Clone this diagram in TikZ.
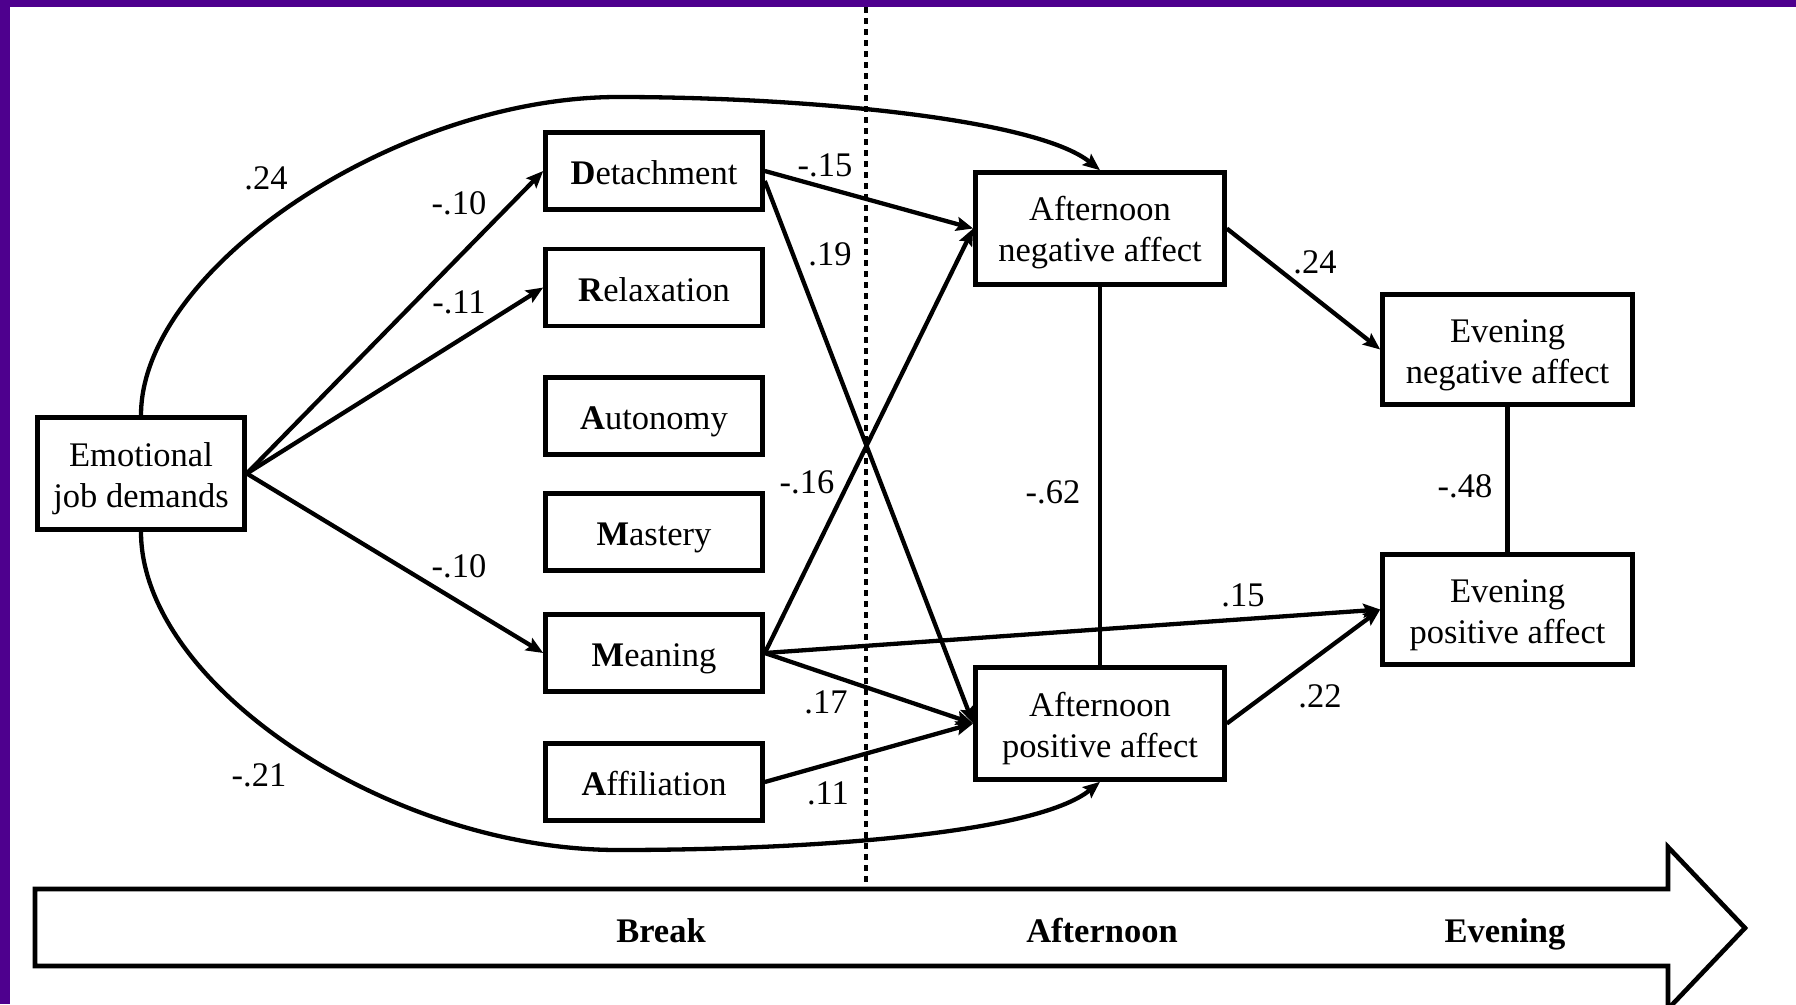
\documentclass[tikz,border=0pt]{standalone}
\usepackage{fontspec}
\setmainfont{Liberation Serif}
\usetikzlibrary{arrows.meta}
\definecolor{framepurple}{RGB}{78,0,142}
\newcommand{\figfont}{\fontsize{34.5pt}{40.5pt}\selectfont}
\newcommand{\bt}[2][5.5pt]{\raisebox{-#1}[\height][\depth]{\begin{tabular}{@{}c@{}}#2\end{tabular}}}
\begin{document}
\begin{tikzpicture}[x=1pt,y=-1pt,
  box/.style={draw, line width=4.6pt, inner sep=0pt, font=\figfont},
  ejdbox/.style={box, minimum width=207pt, minimum height=112pt},
  recbox/.style={box, minimum width=217pt, minimum height=77pt},
  affbox/.style={box, minimum width=249pt, minimum height=112pt},
  evebox/.style={box, minimum width=250pt, minimum height=110pt},
  coef/.style={inner sep=0pt, font=\figfont},
  phase/.style={inner sep=0pt, font=\figfont\bfseries},
  arr/.style={line width=4.3pt, -{Stealth[length=17pt,width=14pt,inset=3pt]}},
  plain/.style={line width=4.3pt},
]
\useasboundingbox (0,0) rectangle (1796,1004);
\fill[white] (0,0) rectangle (1796,1004);
\fill[framepurple] (0,0) rectangle (1796,7);
\fill[framepurple] (0,0) rectangle (10,1004);

% dotted separator
\coordinate (septop) at (866,7);
\coordinate (sepbot) at (866,884);
\draw[line width=4.5pt, dash pattern=on 5.5pt off 5.5pt] (septop) -- (sepbot);

% time arrow
\draw[line width=4.6pt, miter limit=10] (35,889) -- (1668,889) -- (1668,847) -- (1745,928) -- (1668,1009) -- (1668,966) -- (35,966) -- cycle;
\node[phase] (tbreak) at (661,930) {\bt[4pt]{Break}};
\node[phase] (tafter) at (1102,930) {\bt[4pt]{Afternoon}};
\node[phase] (teven) at (1505,930) {\bt[4pt]{Evening}};

% nodes
\node[ejdbox] (ejd) at (141,473.5) {\bt{Emotional\\job demands}};
\node[recbox] (det) at (654,171) {\bt{\textbf{D}etachment}};
\node[recbox] (rel) at (654,287.5) {\bt{\textbf{R}elaxation}};
\node[recbox] (aut) at (654,416) {\bt{\textbf{A}utonomy}};
\node[recbox] (mas) at (654,532) {\bt{\textbf{M}astery}};
\node[recbox] (mea) at (654,653) {\bt{\textbf{M}eaning}};
\node[recbox] (aff) at (654,782) {\bt{\textbf{A}ffiliation}};
\node[affbox] (afneg) at (1100,228.5) {\bt[4.5pt]{Afternoon\\negative affect}};
\node[affbox] (afpos) at (1100,723.5) {\bt{Afternoon\\positive affect}};
\node[evebox] (eveneg) at (1507.5,349.5) {\bt{Evening\\negative affect}};
\node[evebox] (evepos) at (1507.5,609.5) {\bt{Evening\\positive affect}};

% curves
\coordinate (toppeak) at (618,97);
\coordinate (botpeak) at (618,850);
\draw[arr] (ejd.north) .. controls (141,268) and (398,97) .. (toppeak)
  .. controls (800,97) and (1035,118) .. (afneg.north);
\draw[arr] (ejd.south) .. controls (141,685) and (390,850) .. (botpeak)
  .. controls (800,850) and (1035,835) .. (afpos.south);

% straight paths
\draw[arr] (ejd.east) -- (det.west);
\draw[arr] (ejd.east) -- (rel.west);
\draw[arr] (ejd.east) -- (mea.west);
\draw[arr] (det.east) -- (afneg.west);
\draw[arr] ([yshift=-10pt]det.east) -- (afpos.west);
\draw[arr] (mea.east) -- (afneg.west);
\draw[arr] (mea.east) -- (afpos.west);
\draw[arr] (mea.east) -- (evepos.west);
\draw[arr] (aff.east) -- (afpos.west);
\draw[arr] (afneg.east) -- (eveneg.west);
\draw[arr] (afpos.east) -- (evepos.west);
\draw[plain] (afneg.south) -- (afpos.north);
\draw[plain] (eveneg.south) -- (evepos.north);

% coefficients
\node[coef] (c1) at (266,178) {.24};
\node[coef] (c2) at (259,775) {-.21};
\node[coef] (c3) at (459,203) {-.10};
\node[coef] (c4) at (459,302) {-.11};
\node[coef] (c5) at (459,566) {-.10};
\node[coef] (c6) at (825,165) {-.15};
\node[coef] (c7) at (830,254) {.19};
\node[coef] (c8) at (807,482) {-.16};
\node[coef] (c9) at (826,702) {.17};
\node[coef] (c10) at (828,793) {.11};
\node[coef] (c11) at (1053,492) {-.62};
\node[coef] (c12) at (1315,262) {.24};
\node[coef] (c13) at (1465,486) {-.48};
\node[coef] (c14) at (1243,595) {.15};
\node[coef] (c15) at (1320,696) {.22};
\end{tikzpicture}
\end{document}
